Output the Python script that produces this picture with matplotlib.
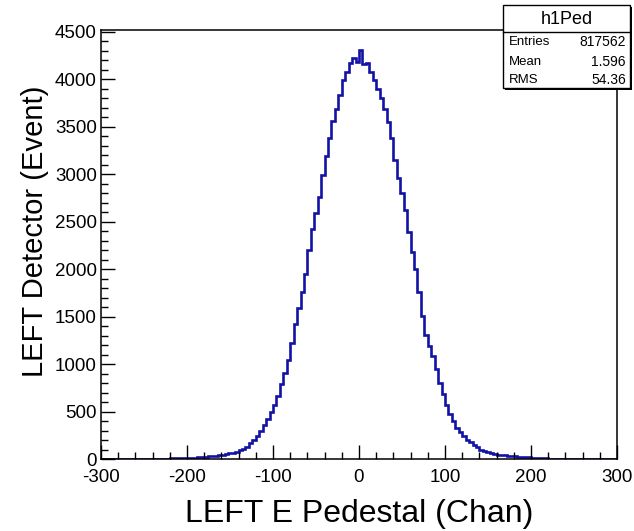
import numpy as np
import matplotlib
matplotlib.use('Agg')
import matplotlib.pyplot as plt
from matplotlib.ticker import MultipleLocator
from matplotlib.patches import Rectangle

# histogram h1Ped, 4-channel bins from -300 to 300
bin_lo, bin_hi, bin_w = -300, 300, 4
counts_left = [
    0, 0, 1, 0, 0, 1, 0, 1, 1, 0,
    1, 2, 1, 2, 2, 3, 3, 4, 5, 5,
    6, 7, 8, 9, 10, 12, 13, 15, 18, 20,
    24, 27, 31, 35, 40, 46, 52, 60, 68, 78,
    92, 108, 130, 165, 198, 240, 290, 355, 420, 490,
    565, 665, 790, 905, 1040, 1225, 1420, 1590, 1760, 1950,
    2200, 2420, 2590, 2760, 2990, 3190, 3380, 3560, 3690, 3840,
    3990, 4080, 4170, 4230, 4180,
]
counts_right = [
    4310, 4160, 4170, 4080, 3990, 3900, 3800, 3690, 3550, 3380,
    3150, 2960, 2800, 2620, 2390, 2180, 2000, 1760, 1510, 1310,
    1190, 1080, 945, 800, 680, 565, 470, 400, 330, 285,
    240, 205, 175, 150, 125, 100, 86, 75, 64, 52,
    46, 42, 38, 34, 30, 27, 24, 21, 18, 16,
    14, 12, 10, 8, 6, 5, 3, 2, 2, 1,
    1, 1, 0, 1, 0, 0, 1, 0, 0, 0,
    0, 0, 0, 0, 0,
]

stats_name = 'h1Ped'
stats_rows = [('Entries', '817562'), ('Mean', '1.596'), ('RMS', '54.36')]

x_label = 'LEFT E Pedestal (Chan)'
y_label = 'LEFT Detector (Event)'

plt.rcParams['font.family'] = ['Liberation Sans', 'DejaVu Sans']
plt.rcParams['axes.unicode_minus'] = False

W, H = 634, 531
fig = plt.figure(figsize=(W / 100, H / 100), dpi=100)
ax = fig.add_axes((101 / W, 1 - 459 / H, 516 / W, 429 / H))

edges = np.arange(bin_lo, bin_hi + bin_w, bin_w)
counts = np.array(counts_left + counts_right, dtype=float)
ax.stairs(counts, edges, color='#1212a4', linewidth=1.9)

ax.set_xlim(-300, 300)
ax.set_ylim(0, 4520)
ax.xaxis.set_major_locator(MultipleLocator(100))
ax.xaxis.set_minor_locator(MultipleLocator(20))
ax.yaxis.set_major_locator(MultipleLocator(500))
ax.yaxis.set_minor_locator(MultipleLocator(100))
ax.tick_params(which='both', direction='in', top=False, right=False,
               labelsize=13.5, width=1, color='black')
ax.tick_params(which='major', length=10)
ax.tick_params(which='minor', length=5)
ax.tick_params(axis='x', pad=7)
ax.tick_params(axis='y', pad=3)
for sp in ax.spines.values():
    sp.set_linewidth(1.1)

ax.set_xlabel(x_label, fontsize=23)
ax.set_ylabel(y_label, fontsize=21)
ax.xaxis.set_label_coords(0.5, -0.093)
ax.yaxis.set_label_coords(-0.1, 0.53)

# ROOT style stats box
bx0, bx1, by0, by1, by_t = 503, 630, 5, 88, 32
def fx(px):
    return px / W
def fy(py):
    return 1 - py / H
fig.patches.append(Rectangle((fx(bx0 + 2), fy(by1 + 2)), fx(bx1 - bx0), fy(by0) - fy(by1),
                             transform=fig.transFigure, facecolor='black', edgecolor='none', zorder=5))
fig.patches.append(Rectangle((fx(bx0), fy(by1)), fx(bx1 - bx0), fy(by0) - fy(by1),
                             transform=fig.transFigure, facecolor='white', edgecolor='black',
                             linewidth=1, zorder=6))
fig.add_artist(plt.Line2D([fx(bx0), fx(bx1)], [fy(by_t), fy(by_t)], color='black', lw=1, zorder=7))
fig.text(fx((bx0 + bx1) / 2), fy((by0 + by_t) / 2 + 1), stats_name, ha='center', va='center',
         fontsize=13, zorder=8)
row_y = [42, 62, 80]
for (lab, val), ry in zip(stats_rows, row_y):
    fig.text(fx(bx0 + 6), fy(ry), lab, ha='left', va='center', fontsize=9.5, zorder=8)
    fig.text(fx(bx1 - 4), fy(ry), val, ha='right', va='center', fontsize=10, zorder=8)

fig.savefig('out.png', dpi=100)
